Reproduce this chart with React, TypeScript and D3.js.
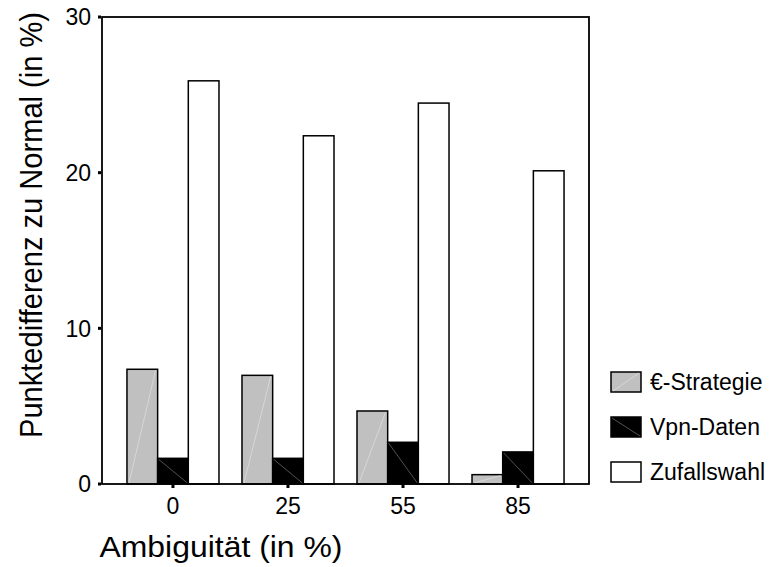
import React from "react";
import * as d3 from "d3";

const categories = ["0", "25", "55", "85"];
const seriesNames = ["€-Strategie", "Vpn-Daten", "Zufallswahl"];
const strategieValues = [7.37, 6.98, 4.69, 0.6];
const vpnValues = [1.65, 1.65, 2.68, 2.06];
const zufallValues = [25.9, 22.37, 24.47, 20.12];
const yTicks = [0, 10, 20, 30];

const W = 773;
const H = 567;
const plot = { left: 102, right: 589, top: 17, bottom: 484 };
const fills = ["#c0c0c0", "#000000", "#ffffff"];
const diagColors = ["#dcdcdc", "#666666", null];
const FONT = "'Liberation Sans', Arial, sans-serif";

export default function App() {
  const series = [strategieValues, vpnValues, zufallValues];
  const x0 = d3
    .scaleBand<string>()
    .domain(categories)
    .range([plot.left, plot.right])
    .paddingInner(0.2)
    .paddingOuter(0.217);
  const x1 = d3
    .scaleBand<string>()
    .domain(seriesNames)
    .range([0, x0.bandwidth()])
    .padding(0);
  const y = d3.scaleLinear().domain([0, 30]).range([plot.bottom, plot.top]);

  const bars: React.ReactNode[] = [];
  categories.forEach((c, ci) => {
    seriesNames.forEach((s, si) => {
      const v = series[si][ci];
      const bx = (x0(c) as number) + (x1(s) as number);
      const bw = x1.bandwidth();
      const by = y(v);
      const bh = y(0) - by;
      bars.push(
        <g key={`${c}-${s}`}>
          <rect x={bx} y={by} width={bw} height={bh} fill={fills[si]} stroke="#000" strokeWidth={1.5} />
          {si === 0 && (
            <line x1={bx + 2} y1={y(0) - 1} x2={bx + bw - 2} y2={by + 1} stroke={diagColors[0] as string} strokeWidth={0.8} />
          )}
          {si === 1 && (
            <line x1={bx + 1} y1={by + 1} x2={bx + bw - 1} y2={y(0) - 1} stroke={diagColors[1] as string} strokeWidth={0.8} />
          )}
        </g>
      );
    });
  });

  const legendX = 611;
  const legendY0 = 372;
  const legendStep = 45;

  return (
    <svg
      width={W}
      height={H}
      style={{ position: "absolute", left: 0, top: 0, background: "#fff" }}
      fontFamily={FONT}
    >
      <rect x={0} y={0} width={W} height={H} fill="#fff" />
      {bars}
      <rect
        x={plot.left}
        y={plot.top}
        width={plot.right - plot.left}
        height={plot.bottom - plot.top}
        fill="none"
        stroke="#000"
        strokeWidth={1.8}
      />
      {yTicks.map((t) => (
        <g key={`yt${t}`}>
          <rect x={plot.left - 4} y={y(t) - 1.5} width={3} height={3} fill="#000" />
          <text x={91} y={y(t)} dy="0.36em" textAnchor="end" fontSize={23} fill="#000">
            {t}
          </text>
        </g>
      ))}
      {categories.map((c) => {
        const cx = (x0(c) as number) + x0.bandwidth() / 2;
        return (
          <g key={`xt${c}`}>
            <rect x={cx - 1.5} y={plot.bottom + 1} width={3} height={3} fill="#000" />
            <text x={cx} y={514} textAnchor="middle" fontSize={23} fill="#000">
              {c}
            </text>
          </g>
        );
      })}
      <text x={221} y={557} textAnchor="middle" fontSize={29} fill="#000" textLength={243} lengthAdjust="spacingAndGlyphs">
        Ambiguität (in %)
      </text>
      <text
        transform={`translate(42, 225) rotate(-90)`}
        textAnchor="middle"
        fontSize={31}
        fill="#000"
        textLength={426}
        lengthAdjust="spacingAndGlyphs"
      >
        Punktedifferenz zu Normal (in %)
      </text>
      {seriesNames.map((s, i) => {
        const ly = legendY0 + i * legendStep;
        return (
          <g key={`lg${s}`}>
            <rect x={legendX} y={ly} width={30} height={20} fill={fills[i]} stroke="#000" strokeWidth={1.5} />
            {i === 0 && (
              <line x1={legendX + 2} y1={ly + 19} x2={legendX + 28} y2={ly + 1} stroke={diagColors[0] as string} strokeWidth={0.8} />
            )}
            {i === 1 && (
              <line x1={legendX + 1} y1={ly + 1} x2={legendX + 29} y2={ly + 19} stroke={diagColors[1] as string} strokeWidth={0.8} />
            )}
            <text x={650} y={ly + 18} fontSize={23} fill="#000">
              {s}
            </text>
          </g>
        );
      })}
    </svg>
  );
}
